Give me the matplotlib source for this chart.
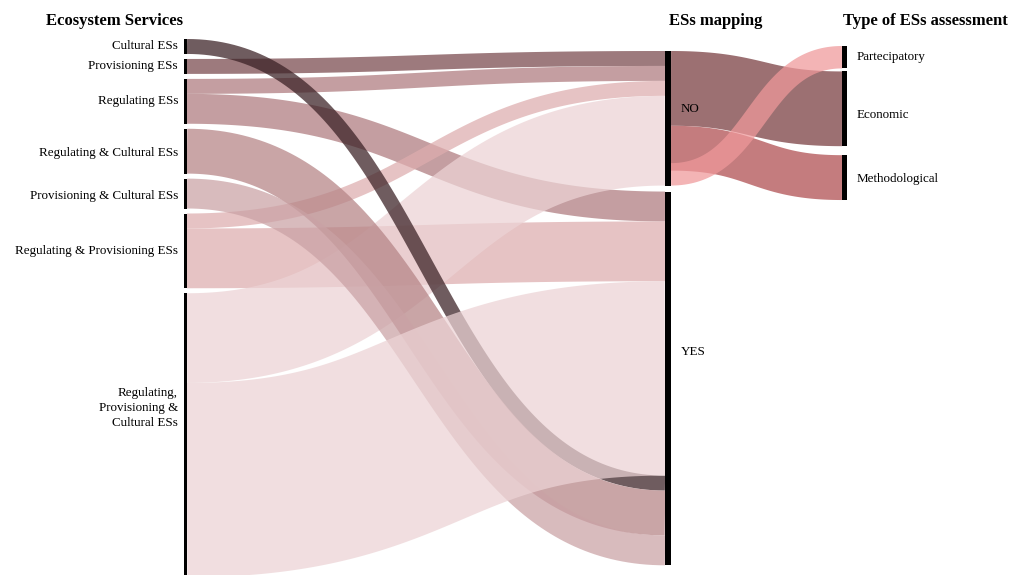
import numpy as np
import matplotlib
matplotlib.use("Agg")
import matplotlib.pyplot as plt
from matplotlib.patches import Rectangle

# Nodes of the three columns (top to bottom)
left_nodes = [
    "Cultural ESs",
    "Provisioning ESs",
    "Regulating ESs",
    "Regulating & Cultural ESs",
    "Provisioning & Cultural ESs",
    "Regulating & Provisioning ESs",
    "Regulating,\nProvisioning &\nCultural ESs",
]
mid_nodes = ["NO", "YES"]
right_nodes = ["Partecipatory", "Economic", "Methodological"]

column_titles = ["Ecosystem Services", "ESs mapping", "Type of ESs assessment"]

# Links, listed in the order they are stacked at each node
link_source = [1, 2, 2, 5, 5, 6, 6, 0, 3, 4, "NO", "NO", "NO"]
link_target = ["NO", "NO", "YES", "NO", "YES", "NO", "YES", "YES", "YES", "YES",
               "Economic", "Methodological", "Partecipatory"]
link_value = [1, 1, 2, 1, 4, 6, 13, 1, 3, 2, 5, 3, 1.5]

# Colour of each link as it looks on white
link_color = ["#9d7a7d", "#c49fa1", "#c49fa1", "#e7c3c4", "#e7c3c4", "#f1dfe0",
              "#f1dfe0", "#6f5c5f", "#c9a5a7", "#d8bbbd",
              "#9c7072", "#c47c7e", "#f3b4b5"]

# drawing order (later = on top)
draw_order = [0, 1, 2, 3, 4, 5, 7, 8, 9, 6, 10, 11, 12]

ALPHA = 0.73
SCALE = 14.95  # px per unit

# layout in pixel space
col_x = [184, 665, 842]
col_w = [3, 6, 5]
col_top = [39, 51, 46]
col_gaps = [[5, 5, 5, 5, 5, 5], [6], [3, 9]]
label_frac = [[0.5, 0.5, 0.5, 0.55, 0.57, 0.5, 0.405], [0.43, 0.43], [0.5, 0.58, 0.53]]


def base_color(hex_color, a):
    rgb = np.array(matplotlib.colors.to_rgb(hex_color))
    c = (rgb - (1 - a)) / a
    return tuple(np.clip(c, 0, 1))


columns = [
    [(i, n) for i, n in enumerate(left_nodes)],
    [(n, n) for n in mid_nodes],
    [(n, n) for n in right_nodes],
]

# node positions (size = inflow, or outflow for first column)
nodes = {}
for c, col in enumerate(columns):
    y = col_top[c]
    for j, (key, name) in enumerate(col):
        s_in = sum(v for t, v in zip(link_target, link_value) if t == key)
        s_out = sum(v for s, v in zip(link_source, link_value) if s == key)
        h = (s_in if s_in > 0 else s_out) * SCALE
        nodes[key] = dict(col=c, y0=y, y1=y + h, name=name, frac=label_frac[c][j])
        if j < len(col_gaps[c]):
            y = y + h + col_gaps[c][j]

# link end positions, stacked at each node in list order
out_off = {k: n["y0"] for k, n in nodes.items()}
in_off = {k: n["y0"] for k, n in nodes.items()}
links = []
for s, t, v in zip(link_source, link_target, link_value):
    h = v * SCALE
    ys = out_off[s]
    if ys + h > nodes[s]["y1"] + 0.5:
        ys = nodes[s]["y1"] - h
    out_off[s] = ys + h
    yt = in_off[t]
    in_off[t] = yt + h
    links.append((s, t, ys, yt, h))


def bezier(x0, y0, x1, y1, n=120):
    t = np.linspace(0, 1, n)
    xm = (x0 + x1) / 2
    x = (1 - t) ** 3 * x0 + 3 * (1 - t) ** 2 * t * xm + 3 * (1 - t) * t ** 2 * xm + t ** 3 * x1
    y = (1 - t) ** 3 * y0 + 3 * (1 - t) ** 2 * t * y0 + 3 * (1 - t) * t ** 2 * y1 + t ** 3 * y1
    return x, y


fig = plt.figure(figsize=(10.11, 5.75), dpi=100)
ax = fig.add_axes([0, 0, 1, 1])
ax.set_xlim(0, 1011)
ax.set_ylim(575, 0)
ax.axis("off")

# links drawn as thick strokes along the centre curve
for i in draw_order:
    s, t, ys, yt, h = links[i]
    cs, ct = nodes[s]["col"], nodes[t]["col"]
    x0 = col_x[cs] + col_w[cs]
    x1 = col_x[ct]
    xc, yc = bezier(x0, ys + h / 2, x1, yt + h / 2)
    ax.plot(xc, yc, color=base_color(link_color[i], ALPHA), alpha=ALPHA,
            lw=h * 72 / 100, solid_capstyle="butt", solid_joinstyle="round", zorder=1)

serif = ["Liberation Serif", "DejaVu Serif"]

for k, n in nodes.items():
    c = n["col"]
    ax.add_patch(Rectangle((col_x[c], n["y0"]), col_w[c], n["y1"] - n["y0"],
                           facecolor="black", edgecolor="none", zorder=3))
    ly = n["y0"] + (n["y1"] - n["y0"]) * n["frac"]
    if c == 0:
        ax.text(col_x[c] - 6, ly, n["name"], ha="right", va="center", ma="right",
                fontsize=9.4, family=serif, linespacing=1.35, zorder=4)
    else:
        ax.text(col_x[c] + col_w[c] + 10, ly, n["name"], ha="left", va="center",
                fontsize=9.4, family=serif, zorder=4)

ax.text(col_x[0] - 1, 25, column_titles[0], ha="right", va="baseline",
        fontsize=12, fontweight="bold", family=serif)
ax.text(col_x[1] + 4, 25, column_titles[1], ha="left", va="baseline",
        fontsize=12, fontweight="bold", family=serif)
ax.text(col_x[2] + 1, 25, column_titles[2], ha="left", va="baseline",
        fontsize=12, fontweight="bold", family=serif)

fig.savefig("out.png", dpi=100)
plt.close(fig)
